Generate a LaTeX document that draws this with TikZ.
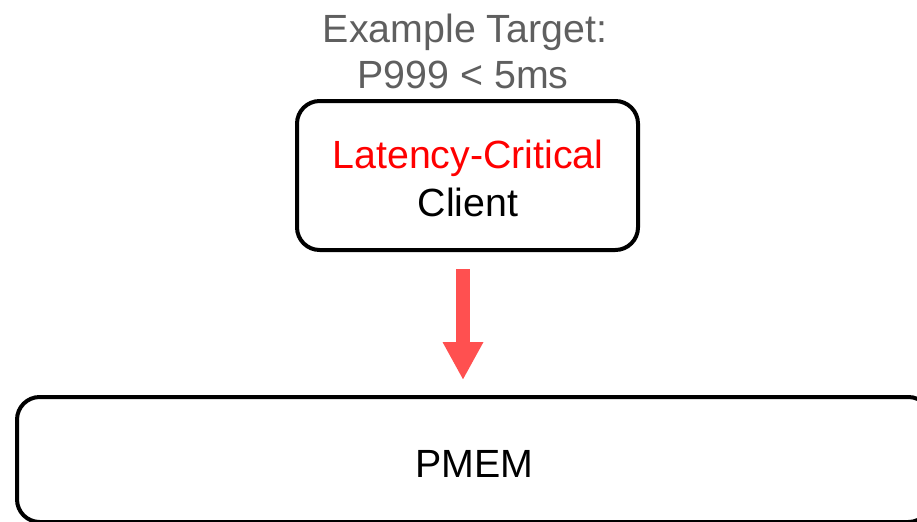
\documentclass[tikz,border=0pt]{standalone}
\usepackage{fontspec}
\setmainfont{Liberation Sans}
\usetikzlibrary{arrows.meta}
\definecolor{titlegray}{RGB}{95,95,95}
\definecolor{latred}{RGB}{255,0,0}
\definecolor{arrowred}{RGB}{255,80,80}
\begin{document}
\begin{tikzpicture}[x=0.75pt,y=-0.75pt,
  box/.style={draw=black,line width=3pt,rounded corners=17pt,inner sep=0pt},
  lbl/.style={font=\fontsize{29.5}{35}\selectfont,anchor=base,inner sep=0pt},
  blockarrow/.style={draw=arrowred,line width=10.5pt,-{Triangle[width=28.5pt,length=28.5pt]}}]
\useasboundingbox (0,0) rectangle (917,521);
\clip (0,0) rectangle (917,521);
\node[box,minimum width=255.75pt,minimum height=111.75pt] (client) at (467.5,175.5) {};
\node[box,minimum width=685.5pt,minimum height=93.75pt] (pmem) at (474,459.5) {};
\node[lbl,text=titlegray] (t1) at (465,42) {Example Target:};
\node[lbl,text=titlegray] (t2) at (463,88) {P999 < 5ms};
\node[lbl,text=latred] (c1) at (468,168) {Latency-Critical};
\node[lbl,text=black] (c2) at (468,216) {Client};
\node[lbl,text=black] (p1) at (474.5,477) {PMEM};
\coordinate (a1) at (463,269);
\coordinate (a2) at (463,380);
\draw[blockarrow] (a1) -- (a2);
\end{tikzpicture}
\end{document}
